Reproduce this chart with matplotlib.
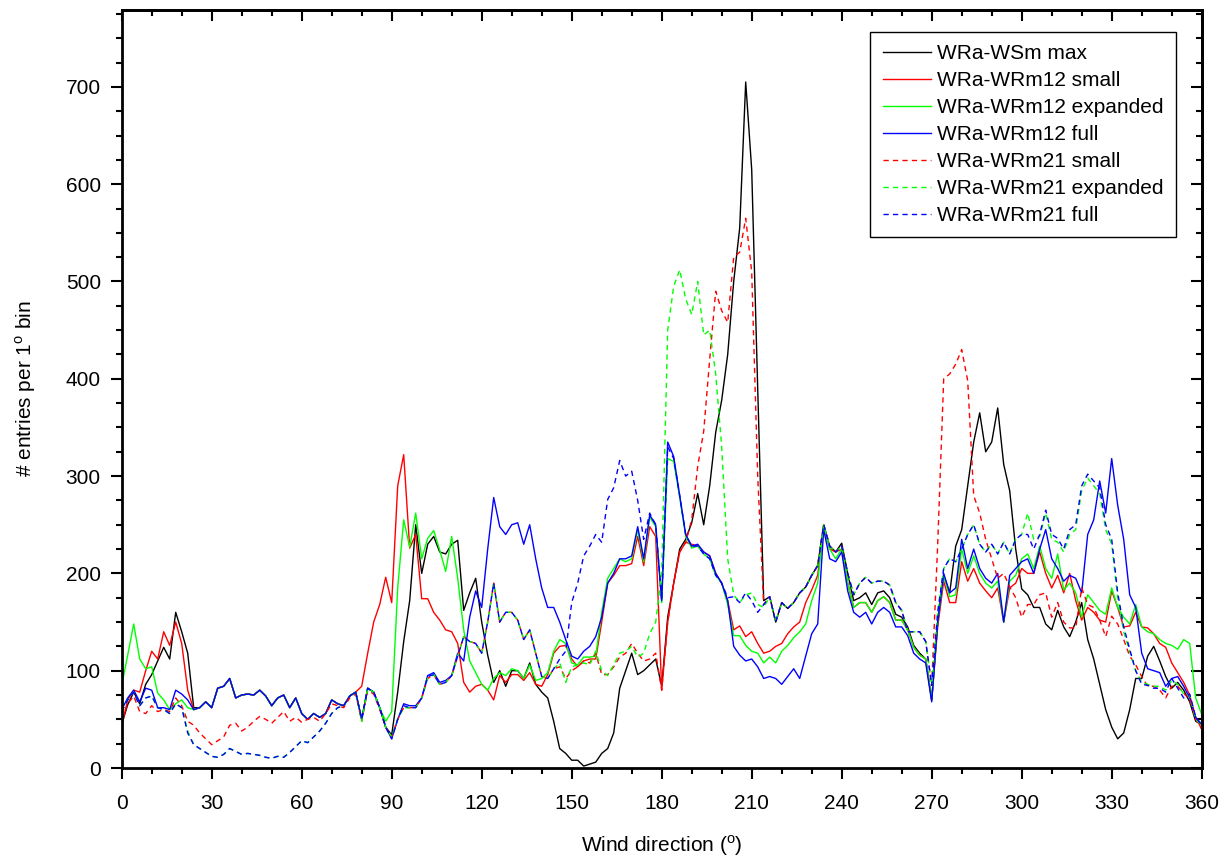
import numpy as np
import matplotlib
matplotlib.use("Agg")
from matplotlib import pyplot as plt
from matplotlib import font_manager
from matplotlib.ticker import MultipleLocator

# 2-degree bins, 0..360
angle = np.arange(0, 361, 2)

# rows of 10 values = 20 degrees each, last value is 360
wsm_max = [
    45, 65, 78, 66, 86, 96, 110, 124, 112, 160,
    140, 118, 62, 62, 68, 62, 82, 84, 92, 72,
    75, 76, 75, 80, 74, 64, 72, 75, 62, 72,
    56, 50, 56, 52, 56, 70, 66, 64, 74, 78,
    50, 82, 78, 62, 42, 34, 78, 130, 172, 250,
    200, 230, 238, 222, 220, 230, 234, 162, 180, 195,
    150, 116, 88, 100, 84, 100, 100, 92, 108, 86,
    78, 72, 48, 20, 15, 8, 8, 2, 4, 6,
    15, 20, 36, 82, 100, 118, 96, 100, 106, 112,
    84, 155, 190, 225, 235, 252, 282, 250, 290, 345,
    378, 425, 500, 555, 705, 615, 390, 172, 176, 150,
    170, 164, 170, 180, 186, 198, 208, 250, 228, 222,
    231, 200, 172, 175, 180, 168, 180, 182, 175, 158,
    155, 145, 126, 118, 112, 70, 150, 198, 180, 228,
    245, 290, 335, 365, 325, 335, 370, 312, 285, 225,
    184, 178, 165, 165, 148, 142, 162, 145, 135, 150,
    170, 132, 112, 86, 60, 42, 30, 36, 60, 92,
    92, 115, 125, 110, 94, 82, 88, 80, 68, 48,
    45]

m12_small = [
    43, 70, 80, 78, 100, 120, 112, 140, 126, 150,
    128, 80, 60, 62, 68, 62, 82, 84, 92, 72,
    75, 76, 75, 80, 74, 64, 72, 75, 62, 72,
    56, 50, 56, 52, 56, 70, 66, 64, 74, 78,
    84, 118, 150, 168, 196, 170, 290, 322, 226, 240,
    174, 174, 160, 152, 142, 140, 128, 88, 78, 84,
    86, 80, 70, 95, 88, 96, 96, 90, 98, 86,
    84, 96, 118, 125, 126, 112, 104, 110, 112, 112,
    150, 190, 198, 208, 208, 210, 238, 208, 248, 238,
    80, 150, 190, 222, 232, 230, 228, 222, 218, 200,
    190, 172, 142, 146, 135, 140, 128, 118, 120, 125,
    128, 138, 145, 150, 170, 183, 198, 250, 225, 222,
    225, 190, 165, 170, 170, 160, 172, 176, 170, 152,
    152, 142, 124, 116, 112, 70, 145, 192, 170, 170,
    212, 192, 205, 190, 182, 175, 185, 150, 185, 190,
    205, 200, 200, 222, 200, 185, 198, 180, 200, 172,
    152, 165, 160, 152, 150, 182, 165, 145, 146, 160,
    145, 144, 138, 128, 124, 108, 98, 88, 75, 52,
    40]

m12_expanded = [
    85, 116, 148, 112, 102, 104, 77, 70, 60, 66,
    70, 62, 60, 62, 68, 62, 82, 84, 92, 72,
    75, 76, 75, 80, 74, 64, 72, 75, 62, 72,
    56, 50, 56, 52, 56, 70, 66, 64, 74, 78,
    50, 82, 78, 62, 48, 58, 185, 255, 227, 262,
    215, 236, 244, 224, 202, 238, 195, 142, 110, 98,
    86, 80, 92, 98, 95, 102, 100, 92, 106, 90,
    92, 98, 120, 132, 128, 108, 106, 114, 114, 115,
    160, 195, 205, 215, 212, 215, 245, 212, 258, 248,
    170, 318, 315, 278, 238, 226, 228, 220, 215, 198,
    190, 168, 136, 136, 126, 120, 118, 108, 114, 108,
    120, 126, 134, 140, 148, 172, 190, 250, 225, 215,
    225, 190, 165, 170, 170, 160, 172, 176, 170, 152,
    152, 142, 124, 116, 112, 70, 150, 198, 176, 178,
    225, 200, 218, 200, 190, 185, 192, 150, 192, 198,
    215, 220, 205, 228, 205, 195, 220, 183, 190, 180,
    155, 178, 170, 162, 158, 185, 165, 155, 148, 168,
    145, 140, 138, 132, 128, 126, 122, 132, 128, 72,
    55]

m12_full = [
    60, 72, 80, 68, 82, 80, 62, 62, 60, 80,
    76, 70, 60, 62, 68, 62, 82, 84, 92, 72,
    75, 76, 75, 80, 74, 64, 72, 75, 62, 72,
    56, 50, 56, 52, 56, 70, 66, 64, 74, 78,
    50, 82, 78, 62, 42, 30, 50, 66, 64, 64,
    72, 95, 98, 88, 90, 95, 118, 110, 155, 182,
    165, 225, 278, 248, 240, 250, 252, 230, 250, 215,
    185, 165, 165, 150, 132, 115, 112, 120, 125, 135,
    155, 190, 200, 215, 215, 218, 248, 215, 260, 250,
    172, 335, 320, 280, 240, 228, 230, 222, 218, 200,
    190, 172, 125, 116, 110, 112, 104, 92, 94, 92,
    86, 94, 102, 92, 115, 138, 148, 245, 215, 212,
    222, 182, 160, 155, 160, 148, 160, 165, 160, 145,
    145, 136, 118, 112, 108, 68, 150, 200, 180, 185,
    235, 205, 225, 205, 195, 190, 200, 150, 198, 205,
    212, 215, 200, 225, 245, 215, 205, 192, 198, 195,
    180, 240, 255, 295, 262, 318, 270, 235, 178, 165,
    118, 102, 100, 98, 84, 92, 94, 84, 72, 52,
    45]

m21_small = [
    50, 66, 74, 58, 56, 64, 58, 60, 58, 72,
    64, 48, 44, 36, 30, 24, 28, 32, 44, 46,
    38, 42, 48, 53, 50, 46, 52, 58, 48, 52,
    47, 50, 52, 48, 56, 66, 64, 62, 72, 76,
    48, 80, 76, 60, 42, 32, 50, 62, 62, 62,
    72, 92, 96, 86, 88, 95, 115, 135, 130, 128,
    118, 150, 190, 150, 160, 160, 152, 132, 142, 118,
    94, 92, 102, 104, 92, 100, 104, 110, 108, 118,
    96, 96, 104, 114, 118, 128, 118, 110, 112, 118,
    80, 150, 190, 222, 232, 255, 310, 346, 420, 490,
    470, 458, 525, 530, 565, 510, 300, 168, 176, 150,
    170, 164, 170, 180, 186, 198, 208, 250, 228, 222,
    228, 200, 178, 190, 196, 190, 192, 192, 188, 170,
    162, 140, 140, 140, 130, 85, 230, 400, 405, 415,
    430, 398, 280, 262, 235, 215, 195, 200, 186, 175,
    155, 168, 168, 178, 180, 155, 170, 150, 144, 144,
    185, 168, 165, 152, 135, 156, 148, 132, 115, 106,
    94, 84, 84, 80, 72, 84, 84, 77, 70, 50,
    40]

m21_expanded = [
    58, 70, 78, 64, 72, 74, 62, 60, 56, 66,
    62, 38, 24, 20, 16, 12, 11, 14, 20, 17,
    14, 15, 14, 13, 11, 10, 12, 11, 16, 22,
    28, 26, 32, 38, 46, 56, 62, 64, 74, 78,
    48, 82, 78, 62, 42, 32, 50, 62, 62, 62,
    72, 92, 96, 86, 88, 95, 115, 135, 130, 128,
    118, 150, 190, 150, 160, 160, 152, 132, 142, 118,
    94, 92, 102, 108, 88, 104, 106, 108, 106, 120,
    100, 95, 106, 118, 120, 125, 114, 118, 138, 150,
    200, 450, 495, 512, 482, 466, 500, 445, 450, 405,
    330, 215, 178, 170, 178, 180, 168, 165, 176, 150,
    170, 164, 170, 180, 186, 198, 208, 250, 228, 222,
    228, 200, 178, 190, 196, 190, 192, 192, 188, 170,
    162, 140, 140, 140, 130, 85, 160, 205, 215, 212,
    225, 240, 250, 230, 222, 230, 220, 232, 220, 235,
    240, 262, 235, 238, 262, 235, 232, 222, 240, 245,
    285, 298, 290, 282, 245, 230, 175, 140, 120, 100,
    88, 86, 84, 84, 80, 90, 86, 76, 75, 50,
    44]

m21_full = [
    58, 70, 78, 64, 72, 74, 62, 60, 56, 66,
    62, 36, 24, 20, 16, 12, 11, 14, 20, 17,
    14, 15, 14, 13, 11, 10, 12, 11, 16, 22,
    28, 26, 32, 38, 46, 56, 62, 64, 74, 78,
    50, 82, 78, 62, 42, 30, 50, 64, 62, 62,
    72, 94, 96, 86, 88, 95, 115, 135, 130, 128,
    118, 150, 190, 150, 160, 160, 152, 132, 142, 118,
    94, 92, 102, 112, 120, 170, 190, 218, 228, 240,
    232, 276, 288, 316, 300, 305, 275, 235, 262, 250,
    172, 330, 318, 280, 240, 228, 228, 220, 215, 198,
    190, 175, 176, 170, 180, 172, 160, 168, 176, 150,
    170, 164, 170, 180, 186, 198, 208, 250, 228, 222,
    228, 200, 178, 190, 196, 190, 192, 192, 188, 170,
    162, 140, 140, 140, 130, 85, 160, 205, 215, 212,
    225, 240, 250, 230, 222, 230, 220, 232, 220, 235,
    240, 240, 225, 240, 265, 240, 236, 225, 245, 250,
    290, 302, 295, 288, 250, 235, 180, 145, 122, 100,
    86, 85, 82, 82, 78, 92, 82, 72, 76, 52,
    44]

labels = ["WRa-WSm max", "WRa-WRm12 small", "WRa-WRm12 expanded",
          "WRa-WRm12 full", "WRa-WRm21 small", "WRa-WRm21 expanded",
          "WRa-WRm21 full"]

# condensed face for axis labels if it is there
installed = {f.name for f in font_manager.fontManager.ttflist}
narrow_name = 'Liberation Sans Narrow' if 'Liberation Sans Narrow' in installed else 'Liberation Sans'
narrow = [narrow_name, 'DejaVu Sans']

plt.rcParams['font.family'] = ['Liberation Sans', 'DejaVu Sans']
plt.rcParams['mathtext.fontset'] = 'custom'
plt.rcParams['mathtext.rm'] = narrow_name

fig = plt.figure(figsize=(12.27, 8.58), dpi=100)
ax = fig.add_axes([121.7 / 1227, 90 / 858, 1080 / 1227, 758 / 858])

data = [wsm_max, m12_small, m12_expanded, m12_full, m21_small, m21_expanded, m21_full]
colors = ['black', '#ff0000', '#00ff00', '#0000ff', '#ff0000', '#00ff00', '#0000ff']
for i, (vals, col, lab) in enumerate(zip(data, colors, labels)):
    if i < 4:
        ax.plot(angle, vals, color=col, lw=1.0, label=lab)
    else:
        ax.plot(angle, vals, color=col, lw=1.0, dashes=(3.8, 3.0), label=lab)

ax.set_xlim(0, 360)
ax.set_ylim(0, 779)
ax.xaxis.set_major_locator(MultipleLocator(30))
ax.xaxis.set_minor_locator(MultipleLocator(10))
ax.yaxis.set_major_locator(MultipleLocator(100))
ax.yaxis.set_minor_locator(MultipleLocator(25))
ax.tick_params(which='major', direction='out', length=8, width=1.5, labelsize=15)
ax.tick_params(which='minor', direction='out', length=4.5, width=1.5)
ax.tick_params(axis='x', which='major', pad=11)
ax.tick_params(axis='y', which='major', pad=7)
for lbl in ax.get_xticklabels():
    lbl.set_family(narrow)
for sp in ax.spines.values():
    sp.set_linewidth(2)

# mirrored inward ticks on top and right
top = ax.secondary_xaxis('top')
top.xaxis.set_major_locator(MultipleLocator(30))
top.xaxis.set_minor_locator(MultipleLocator(10))
top.tick_params(which='major', direction='in', length=8, width=1.5, labeltop=False)
top.tick_params(which='minor', direction='in', length=4.5, width=1.5)
right = ax.secondary_yaxis('right')
right.yaxis.set_major_locator(MultipleLocator(100))
right.yaxis.set_minor_locator(MultipleLocator(25))
right.tick_params(which='major', direction='in', length=8, width=1.5, labelright=False)
right.tick_params(which='minor', direction='in', length=4.5, width=1.5)
for sec in (top, right):
    for sp in sec.spines.values():
        sp.set_linewidth(2)

ax.set_xlabel(r'Wind direction ($^{\rm o}$)', family=narrow, fontsize=15, labelpad=14)
ax.set_ylabel(r'# entries per 1$^{\rm o}$ bin', family=narrow, fontsize=15, labelpad=20)

leg = ax.legend(loc='upper right', bbox_to_anchor=(0.9762, 0.971), borderaxespad=0,
                fontsize=15, frameon=True, fancybox=False, framealpha=1,
                edgecolor='black', handlelength=2.3, handletextpad=0.3,
                labelspacing=0.38, borderpad=0.6)
leg.get_frame().set_linewidth(1.0)

fig.savefig('out.png', dpi=100)
